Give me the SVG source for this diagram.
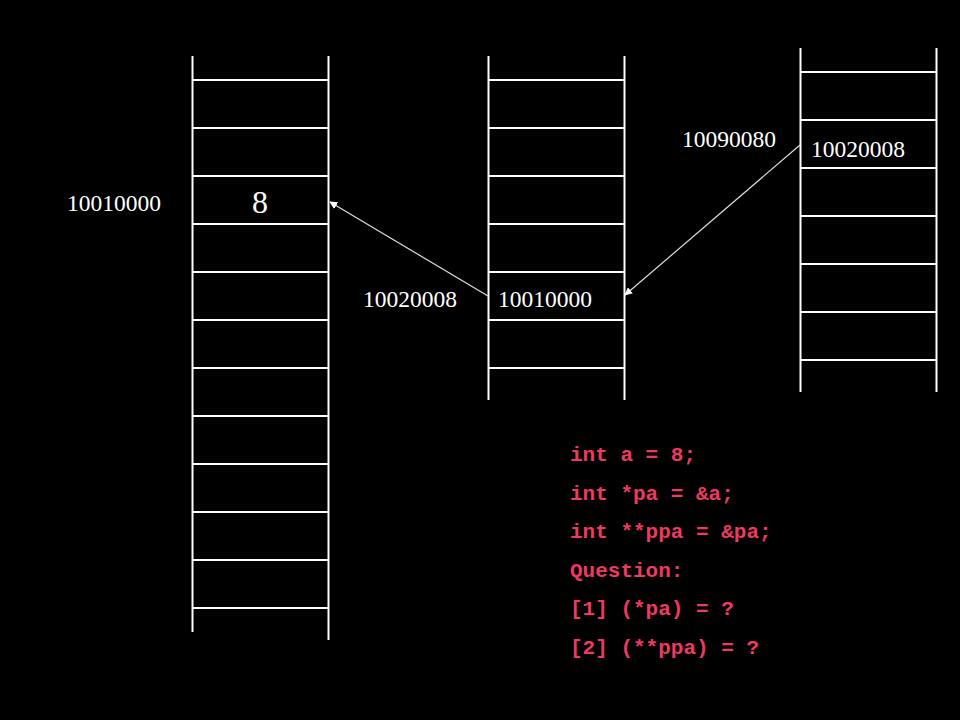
<svg xmlns="http://www.w3.org/2000/svg" width="960" height="720" viewBox="0 0 960 720">
<defs>
<style>
.col line{stroke:#fff;stroke-width:2}
.num{font-family:"Liberation Serif","Times New Roman",serif;font-size:23.5px;fill:#fff}
.code{font-family:"Liberation Mono","Courier New",monospace;font-weight:bold;font-size:21px;fill:#ee3a63}
.conn{stroke:#ddd;stroke-width:1.2;fill:none;marker-end:url(#ah)}
</style>
<marker id="ah" viewBox="0 0 10 10" refX="9" refY="5" markerWidth="8" markerHeight="8" markerUnits="userSpaceOnUse" orient="auto">
<path d="M0,0 L10,5 L0,10 z" fill="#fff"/>
</marker>
</defs>
<rect width="960" height="720" fill="#000"/>

<g id="memA" class="col">
<line x1="192.5" y1="56" x2="192.5" y2="632"/>
<line x1="328.5" y1="56" x2="328.5" y2="640"/>
<line x1="192.5" y1="80" x2="328.5" y2="80"/>
<line x1="192.5" y1="128" x2="328.5" y2="128"/>
<line x1="192.5" y1="176" x2="328.5" y2="176"/>
<line x1="192.5" y1="224" x2="328.5" y2="224"/>
<line x1="192.5" y1="272" x2="328.5" y2="272"/>
<line x1="192.5" y1="320" x2="328.5" y2="320"/>
<line x1="192.5" y1="368" x2="328.5" y2="368"/>
<line x1="192.5" y1="416" x2="328.5" y2="416"/>
<line x1="192.5" y1="464" x2="328.5" y2="464"/>
<line x1="192.5" y1="512" x2="328.5" y2="512"/>
<line x1="192.5" y1="560" x2="328.5" y2="560"/>
<line x1="192.5" y1="608" x2="328.5" y2="608"/>
<text x="260" y="213" text-anchor="middle" style="font-family:'Liberation Serif','Times New Roman',serif;font-size:32px;fill:#fff">8</text>
<text class="num" x="67" y="211">10010000</text>
</g>

<g id="memPA" class="col">
<line x1="488.5" y1="56" x2="488.5" y2="400"/>
<line x1="624.5" y1="56" x2="624.5" y2="400"/>
<line x1="488.5" y1="80" x2="624.5" y2="80"/>
<line x1="488.5" y1="128" x2="624.5" y2="128"/>
<line x1="488.5" y1="176" x2="624.5" y2="176"/>
<line x1="488.5" y1="224" x2="624.5" y2="224"/>
<line x1="488.5" y1="272" x2="624.5" y2="272"/>
<line x1="488.5" y1="320" x2="624.5" y2="320"/>
<line x1="488.5" y1="368" x2="624.5" y2="368"/>
<text class="num" x="498" y="307">10010000</text>
<text class="num" x="363" y="307">10020008</text>
</g>

<g id="memPPA" class="col">
<line x1="800.5" y1="48" x2="800.5" y2="392"/>
<line x1="936.5" y1="48" x2="936.5" y2="392"/>
<line x1="800.5" y1="72" x2="936.5" y2="72"/>
<line x1="800.5" y1="120" x2="936.5" y2="120"/>
<line x1="800.5" y1="168" x2="936.5" y2="168"/>
<line x1="800.5" y1="216" x2="936.5" y2="216"/>
<line x1="800.5" y1="264" x2="936.5" y2="264"/>
<line x1="800.5" y1="312" x2="936.5" y2="312"/>
<line x1="800.5" y1="360" x2="936.5" y2="360"/>
<text class="num" x="811" y="157">10020008</text>
<text class="num" x="682" y="147">10090080</text>
</g>

<g id="connectors">
<line class="conn" x1="488" y1="296" x2="330" y2="202"/>
<line class="conn" x1="800" y1="145" x2="625" y2="295"/>
</g>

<g id="code">
<text class="code" x="570" y="461">int a = 8;</text>
<text class="code" x="570" y="499.5">int *pa = &amp;a;</text>
<text class="code" x="570" y="538">int **ppa = &amp;pa;</text>
<text class="code" x="570" y="576.5">Question:</text>
<text class="code" x="570" y="615">[1] (*pa) = ?</text>
<text class="code" x="570" y="653.5">[2] (**ppa) = ?</text>
</g>
</svg>
